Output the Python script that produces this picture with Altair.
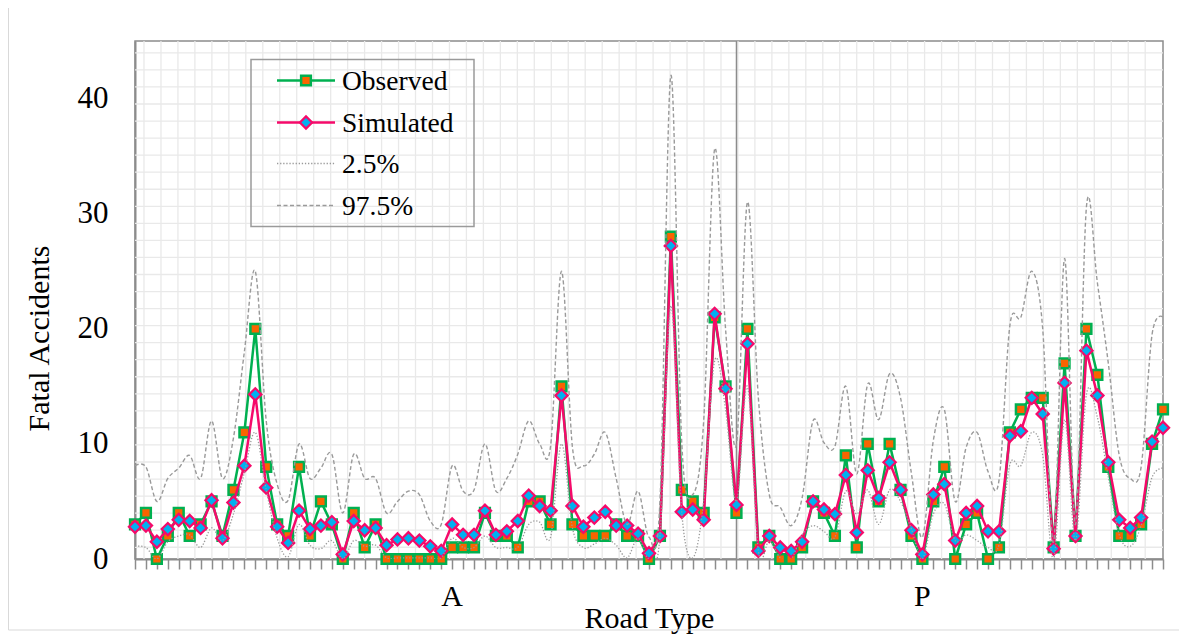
import altair as alt
import pandas as pd
import numpy as np

# ---------------- data ----------------
observed = [3, 4, 0, 2, 4, 2, 3, 5, 2, 6,
            11, 20, 8, 3, 2, 8, 2, 5, 3, 0,
            4, 1, 3, 0, 0, 0, 0, 0, 0, 1,
            1, 1, 4, 2, 2, 1, 5, 5, 3, 15,
            3, 2, 2, 2, 3, 2, 2, 0, 2, 28,
            6, 5, 4, 21, 15, 4, 20, 1, 2, 0,
            0, 1, 5, 4, 2, 9, 1, 10, 5, 10,
            6, 2, 0, 5, 8, 0, 3, 4, 0, 1,
            11, 13, 14, 14, 1, 17, 2, 20, 16, 8,
            2, 2, 3, 10, 13]

simulated = [2.8, 2.9, 1.5, 2.6, 3.4, 3.3, 2.7, 5.1, 1.8, 4.9,
             8.1, 14.3, 6.2, 2.8, 1.4, 4.2, 2.6, 2.9, 3.2, 0.4,
             3.3, 2.5, 2.7, 1.2, 1.7, 1.8, 1.6, 1.1, 0.7, 3.0,
             2.1, 2.1, 4.2, 2.1, 2.4, 3.3, 5.5, 4.6, 4.2, 14.2,
             4.6, 2.8, 3.6, 4.1, 2.9, 2.9, 2.2, 0.5, 2.0, 27.2,
             4.1, 4.3, 3.4, 21.3, 14.8, 4.7, 18.7, 0.7, 2.0, 1.0,
             0.7, 1.5, 5.0, 4.3, 3.9, 7.3, 2.3, 7.7, 5.3, 8.4,
             6.0, 2.5, 0.4, 5.6, 6.5, 1.6, 4.0, 4.6, 2.4, 2.4,
             10.7, 11.1, 14.0, 12.6, 0.9, 15.3, 2.0, 18.1, 14.2, 8.4,
             3.4, 2.7, 3.6, 10.2, 11.4]

lower = [1.1, 1.0, 0.0, 1.5, 2.0, 2.1, 1.0, 2.7, 1.6, 3.9,
         7.5, 11.0, 6.0, 1.8, 0.2, 3.0, 1.2, 0.9, 1.6, 0.0,
         1.6, 1.1, 1.2, 0.1, 0.1, 0.1, 0.1, 0.1, 0.1, 1.8,
         1.0, 1.0, 2.0, 1.0, 1.0, 1.0, 3.0, 3.2, 1.9, 10.0,
         2.7, 1.0, 1.3, 1.8, 1.2, 0.1, 1.8, 0.0, 1.9, 22.0,
         4.0, 0.1, 5.0, 17.2, 13.0, 5.0, 15.0, 0.7, 1.6, 0.1,
         0.0, 2.1, 2.9, 2.4, 1.9, 5.9, 3.9, 6.0, 3.0, 6.0,
         5.0, 2.6, 0.0, 3.9, 4.8, 1.6, 2.1, 1.6, 1.0, 1.2,
         8.2, 8.1, 11.0, 9.0, 0.0, 12.1, 1.6, 14.3, 12.3, 7.1,
         2.1, 1.1, 2.9, 7.1, 7.9]

upper = [8.1, 8.0, 5.0, 7.0, 7.9, 9.0, 7.0, 12.0, 7.0, 10.5,
         18.0, 25.0, 12.0, 6.5, 5.1, 10.0, 7.0, 7.9, 9.1, 4.0,
         9.1, 7.0, 7.0, 4.0, 5.0, 5.9, 5.6, 3.3, 3.0, 8.1,
         5.9, 6.0, 10.0, 5.9, 7.0, 9.1, 12.0, 10.0, 9.8, 25.0,
         9.7, 8.1, 9.1, 11.0, 7.0, 3.0, 5.9, 1.9, 5.0, 42.0,
         10.0, 5.6, 12.0, 35.6, 20.0, 10.0, 31.0, 14.0, 5.6, 4.5,
         2.9, 5.3, 12.0, 10.1, 9.8, 15.0, 7.4, 15.2, 12.1, 16.1,
         14.0, 7.4, 1.9, 10.3, 13.0, 5.0, 9.7, 11.0, 7.6, 6.8,
         20.3, 21.0, 25.0, 20.0, 1.5, 26.1, 3.0, 30.6, 24.0, 17.0,
         9.0, 7.0, 8.0, 19.5, 21.0]

road_type = ["A"] * 56 + ["P"] * 39
category_labels = ["A", "P"]
category_pos = [29, 72]
divider_pos = [55]
series_names = ["Observed", "Simulated", "2.5%", "97.5%"]
y_ticks = [0, 10, 20, 30, 40]

# ---------------- style ----------------
FONT = "Liberation Serif"
GREEN = "#00B050"
ORANGE = "#FA6400"
PINK = "#F50A6A"
BLUE = "#00B0F0"
GRAY = "#8c8c8c"
BOUND = "#9a9a9a"
GRID = "#e9e9e9"

W, H = 1028, 518
N = len(observed)
idx = list(range(N))

df = pd.DataFrame({"i": idx, "road": road_type, "obs": observed,
                   "sim": simulated, "lo": lower, "hi": upper})

xs = alt.Scale(domain=[0, N - 1], nice=False, zero=False)
ys = alt.Scale(domain=[0, 45], nice=False, zero=True)

AX_X = alt.Axis(values=idx, labels=False, ticks=True, tickSize=10,
                tickColor=GRAY, tickWidth=1.5, domainColor=GRAY,
                domainWidth=2, grid=False, title="Road Type",
                titleFont=FONT, titleFontSize=30,
                titleFontWeight="normal", titleColor="black",
                titleBaseline="alphabetic", titleY=68)
AX_Y = alt.Axis(values=y_ticks, ticks=False, labelPadding=27,
                labelFont=FONT, labelFontSize=31, labelColor="black",
                domainColor=GRAY, domainWidth=2, grid=False,
                title="Fatal Accidents", titleFont=FONT,
                titleFontSize=30, titleFontWeight="normal",
                titleColor="black", titleX=-96, titleY=297,
                titleAlign="center", titleBaseline="middle",
                titleAngle=270)


def X(field):
    return alt.X(field, scale=xs, axis=AX_X)


def Y(field):
    return alt.Y(field, scale=ys, axis=AX_Y)


# background pattern grid (purely decorative, ~17px squares)
gx = pd.DataFrame({"gx": 0.823 + 1.5517 * np.arange(60)})
gy = pd.DataFrame({"gy": 43.97 - 1.481 * np.arange(30)})

grid_v = alt.Chart(gx).mark_rule(color=GRID, strokeWidth=1.3).encode(x=X("gx:Q"))
grid_h = alt.Chart(gy).mark_rule(color=GRID, strokeWidth=1.3).encode(y=Y("gy:Q"))

divider = alt.Chart(pd.DataFrame({"d": divider_pos})).mark_rule(
    color=GRAY, strokeWidth=1.5).encode(x=X("d:Q"))

base = alt.Chart(df)

obs_line = base.mark_line(color=GREEN, strokeWidth=2.5).encode(x=X("i:Q"), y=Y("obs:Q"))
obs_pts = base.mark_point(shape="square", filled=True, fill=ORANGE,
                          stroke=GREEN, strokeWidth=2.5, size=95,
                          opacity=1).encode(x=X("i:Q"), y=Y("obs:Q"))

sim_line = base.mark_line(color=PINK, strokeWidth=2.5).encode(x=X("i:Q"), y=Y("sim:Q"))
sim_pts = base.mark_point(shape="diamond", filled=True, fill=BLUE,
                          stroke=PINK, strokeWidth=2.2, size=150,
                          opacity=1).encode(x=X("i:Q"), y=Y("sim:Q"))

lo_line = base.mark_line(color=BOUND, strokeWidth=1.3, strokeDash=[1.3, 1.8],
                         interpolate="cardinal", clip=True).encode(x=X("i:Q"), y=Y("lo:Q"))
hi_line = base.mark_line(color=BOUND, strokeWidth=1.4, strokeDash=[4, 2.5],
                         interpolate="cardinal", clip=True).encode(x=X("i:Q"), y=Y("hi:Q"))

cat_text = alt.Chart(pd.DataFrame({"lab": category_labels, "pos": category_pos})).mark_text(
    font=FONT, fontSize=30, baseline="alphabetic", align="center", color="black").encode(
    x=X("pos:Q"), y=alt.value(H + 46.5), text="lab:N")

# ---------------- manual legend ----------------
one = pd.DataFrame({"k": [0]})
LX0, LX1, LM, LT = 142, 200, 171, 207
rows = [39.5, 81.5, 122.5, 164.5]

legend_box = alt.Chart(one).mark_rect(fill="white", fillOpacity=0, stroke="#9a9a9a",
                                      strokeWidth=1.5).encode(
    x=alt.value(116), x2=alt.value(339), y=alt.value(18.5), y2=alt.value(185.5))

leg_layers = [legend_box]
line_styles = [
    dict(color=GREEN, strokeWidth=2.5),
    dict(color=PINK, strokeWidth=2.5),
    dict(color=BOUND, strokeWidth=1.3, strokeDash=[1.3, 1.8]),
    dict(color=BOUND, strokeWidth=1.4, strokeDash=[4, 2.5]),
]
for r, name, st in zip(rows, series_names, line_styles):
    leg_layers.append(alt.Chart(one).mark_rule(**st).encode(
        x=alt.value(LX0), x2=alt.value(LX1), y=alt.value(r)))
    leg_layers.append(alt.Chart(pd.DataFrame({"t": [name]})).mark_text(
        font=FONT, fontSize=27.5, align="left", baseline="middle", color="black").encode(
        x=alt.value(LT), y=alt.value(r + 1), text="t:N"))
leg_layers.append(alt.Chart(one).mark_point(shape="square", filled=True, fill=ORANGE,
                                            stroke=GREEN, strokeWidth=2.5, size=95,
                                            opacity=1).encode(
    x=alt.value(LM), y=alt.value(rows[0])))
leg_layers.append(alt.Chart(one).mark_point(shape="diamond", filled=True, fill=BLUE,
                                            stroke=PINK, strokeWidth=2.2, size=150,
                                            opacity=1).encode(
    x=alt.value(LM), y=alt.value(rows[1])))

outer = alt.Chart(one).mark_rect(fill="white", fillOpacity=0, stroke="#d9d9d9",
                                 strokeWidth=1).encode(
    x=alt.value(-126.5), x2=alt.value(1045), y=alt.value(-33.5), y2=alt.value(589))

chart = alt.layer(
    grid_v, grid_h, divider,
    obs_line, obs_pts, sim_line, sim_pts, lo_line, hi_line,
    cat_text, *leg_layers, outer
).properties(
    width=W, height=H,
    padding={"left": 127, "top": 33, "right": 16, "bottom": 80},
    autosize=alt.AutoSizeParams(type="none"),
    background="white",
).configure_view(stroke=GRAY, strokeWidth=1.5)

chart.save("out.html", embed_options={"renderer": "svg", "actions": False})
